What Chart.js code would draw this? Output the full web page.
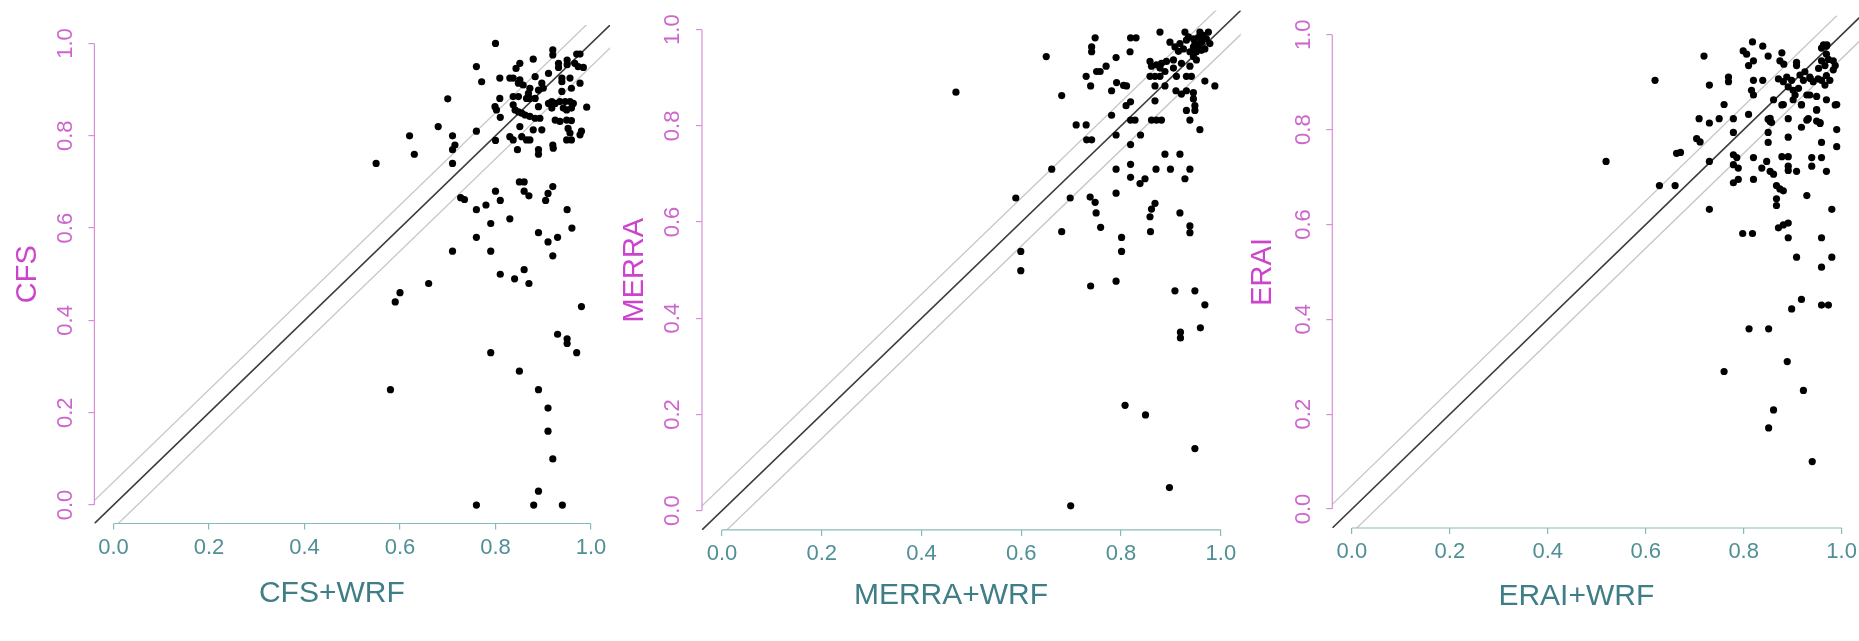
<!DOCTYPE html>
<html><head><meta charset="utf-8">
<script src="https://cdn.jsdelivr.net/npm/chart.js@4.4.1/dist/chart.umd.min.js"></script>
<style>
html,body{margin:0;padding:0;background:#fff;width:1859px;height:641px;overflow:hidden;position:relative}
canvas{position:absolute;top:0}
</style></head><body>
<canvas id="c1"></canvas><canvas id="c2"></canvas><canvas id="c3"></canvas>
<script>
// ---------- data ----------
const xTitles = ['CFS+WRF', 'MERRA+WRF', 'ERAI+WRF'];
const yTitles = ['CFS', 'MERRA', 'ERAI'];
const tickValues = [0.0, 0.2, 0.4, 0.6, 0.8, 1.0];
const axisRange = [-0.04, 1.04];
const refOffsets = [0, 0.05, -0.05];

const cfsPoints = [
[0.80,1.00],[0.92,0.986],[0.92,0.975],[0.879,0.966],[0.97,0.977],[0.977,0.977],[0.966,0.957],[0.973,0.95],[0.984,0.948],[0.95,0.964],[0.95,0.954],[0.932,0.957],[0.932,0.948],[0.851,0.957],[0.843,0.946],[0.911,0.935],[0.809,0.925],[0.83,0.925],[0.837,0.925],[0.851,0.921],[0.858,0.91],[0.848,0.914],[0.771,0.917],[0.883,0.928],[0.897,0.914],[0.89,0.899],[0.90,0.903],[0.939,0.925],[0.939,0.917],[0.956,0.925],[0.977,0.914],[0.872,0.903],[0.869,0.892],[0.809,0.881],[0.837,0.885],[0.848,0.885],[0.865,0.881],[0.872,0.881],[0.883,0.881],[0.939,0.896],[0.959,0.903],[0.918,0.874],[0.911,0.87],[0.925,0.87],[0.935,0.874],[0.946,0.874],[0.956,0.874],[0.963,0.87],[0.799,0.863],[0.802,0.856],[0.837,0.867],[0.841,0.856],[0.848,0.852],[0.855,0.849],[0.862,0.845],[0.872,0.842],[0.883,0.838],[0.893,0.838],[0.89,0.863],[0.918,0.86],[0.942,0.86],[0.949,0.856],[0.959,0.86],[0.991,0.862],[0.925,0.834],[0.935,0.831],[0.949,0.834],[0.959,0.833],[0.851,0.82],[0.879,0.813],[0.897,0.813],[0.952,0.816],[0.956,0.806],[0.977,0.802],[0.83,0.798],[0.837,0.791],[0.855,0.798],[0.865,0.791],[0.872,0.791],[0.949,0.791],[0.959,0.791],[0.921,0.773],[0.81,0.84],
[0.76,0.95],[0.70,0.88],[0.68,0.82],[0.62,0.80],[0.63,0.76],[0.55,0.74],[0.71,0.80],[0.715,0.78],[0.71,0.77],[0.71,0.74],[0.76,0.81],[0.80,0.79],[0.846,0.77],[0.89,0.77],[0.89,0.76],[0.92,0.78],[0.98,0.81],
[0.727,0.666],[0.735,0.662],[0.76,0.64],[0.78,0.65],[0.80,0.68],[0.81,0.66],[0.85,0.70],[0.86,0.70],[0.86,0.68],[0.87,0.67],[0.92,0.69],[0.91,0.675],[0.905,0.66],[0.95,0.64],[0.96,0.60],[0.83,0.62],[0.79,0.61],[0.76,0.58],[0.89,0.59],[0.91,0.57],[0.93,0.58],[0.92,0.54],[0.71,0.55],[0.79,0.55],[0.81,0.50],[0.84,0.49],[0.86,0.51],[0.87,0.48],[0.66,0.48],[0.60,0.46],[0.59,0.44],[0.98,0.43],[0.93,0.37],[0.95,0.36],[0.95,0.35],[0.97,0.33],[0.79,0.33],[0.85,0.29],[0.58,0.25],[0.89,0.25],[0.91,0.21],[0.91,0.16],[0.92,0.10],[0.89,0.03],[0.76,0.00],[0.88,0.00],[0.94,0.00]
];

const merraPoints = [
[0.748,0.983],[0.819,0.983],[0.830,0.983],[0.878,0.995],[0.928,0.995],[0.958,0.995],[0.975,0.995],[0.741,0.964],[0.741,0.954],[0.818,0.954],[0.650,0.944],[0.790,0.942],[0.898,0.974],[0.908,0.964],[0.918,0.971],[0.931,0.978],[0.945,0.981],[0.955,0.984],[0.965,0.988],[0.971,0.981],[0.978,0.971],[0.958,0.971],[0.945,0.964],[0.938,0.954],[0.951,0.954],[0.961,0.957],[0.945,0.944],[0.951,0.937],[0.938,0.924],[0.858,0.934],[0.861,0.924],[0.871,0.927],[0.881,0.930],[0.891,0.934],[0.905,0.937],[0.858,0.903],[0.868,0.903],[0.878,0.903],[0.888,0.913],[0.878,0.920],[0.911,0.903],[0.931,0.903],[0.941,0.903],[0.905,0.920],[0.921,0.930],[0.730,0.903],[0.751,0.913],[0.758,0.913],[0.770,0.924],[0.739,0.883],[0.781,0.873],[0.791,0.890],[0.805,0.884],[0.811,0.883],[0.868,0.883],[0.888,0.883],[0.910,0.873],[0.921,0.866],[0.931,0.873],[0.945,0.869],[0.968,0.893],[0.988,0.883],[0.681,0.863],[0.868,0.852],[0.945,0.856],[0.948,0.842],[0.948,0.832],[0.931,0.832],[0.810,0.842],[0.819,0.850],[0.781,0.822],[0.938,0.812],[0.958,0.792],[0.710,0.802],[0.730,0.802],[0.731,0.771],[0.741,0.771],[0.790,0.781],[0.819,0.812],[0.828,0.812],[0.839,0.781],[0.861,0.812],[0.871,0.812],[0.881,0.812],[0.819,0.761],[0.888,0.741],[0.918,0.741],[0.790,0.710],[0.819,0.720],[0.819,0.693],[0.838,0.680],[0.848,0.690],[0.870,0.710],[0.899,0.710],[0.938,0.710],[0.928,0.690],[0.661,0.710],[0.589,0.650],[0.698,0.650],[0.738,0.652],[0.748,0.641],[0.750,0.619],[0.790,0.660],[0.868,0.639],[0.861,0.627],[0.858,0.611],[0.918,0.619],[0.938,0.592],[0.938,0.578],[0.681,0.580],[0.759,0.589],[0.801,0.568],[0.801,0.539],[0.859,0.580],[0.599,0.539],[0.599,0.499],[0.739,0.467],[0.790,0.477],[0.908,0.457],[0.948,0.457],[0.968,0.428],
[0.935,0.985],[0.962,0.975],[0.948,0.972],[0.968,0.960],[0.955,0.962],[0.925,0.960],[0.915,0.955],
[0.469,0.870],[0.959,0.380],[0.919,0.371],[0.919,0.359],[0.808,0.219],[0.849,0.199],[0.948,0.129],[0.897,0.048],[0.699,0.010]
];

const eraiPoints = [
[0.519,0.733],[0.619,0.904],[0.719,0.955],[0.730,0.894],[0.769,0.911],[0.769,0.901],[0.818,0.985],[0.839,0.976],[0.799,0.966],[0.806,0.959],[0.820,0.945],[0.810,0.935],[0.850,0.955],[0.878,0.962],[0.874,0.945],[0.882,0.938],[0.908,0.942],[0.908,0.935],[0.820,0.904],[0.839,0.904],[0.871,0.907],[0.881,0.901],[0.888,0.911],[0.898,0.904],[0.891,0.890],[0.901,0.883],[0.912,0.887],[0.922,0.904],[0.935,0.911],[0.942,0.901],[0.952,0.907],[0.959,0.904],[0.969,0.914],[0.966,0.894],[0.976,0.904],[0.959,0.972],[0.969,0.976],[0.969,0.959],[0.973,0.948],[0.983,0.945],[0.987,0.935],[0.966,0.935],[0.959,0.945],[0.816,0.883],[0.820,0.873],[0.861,0.863],[0.881,0.853],[0.901,0.863],[0.918,0.853],[0.935,0.873],[0.949,0.870],[0.969,0.863],[0.990,0.853],[0.760,0.853],[0.779,0.823],[0.810,0.832],[0.750,0.823],[0.730,0.814],[0.709,0.823],[0.850,0.822],[0.857,0.815],[0.891,0.823],[0.918,0.805],[0.932,0.823],[0.949,0.818],[0.956,0.815],[0.949,0.842],[0.779,0.794],[0.850,0.794],[0.850,0.773],[0.891,0.784],[0.959,0.773],[0.990,0.764],[0.704,0.781],[0.711,0.774],[0.671,0.752],[0.663,0.750],[0.730,0.733],[0.779,0.747],[0.786,0.741],[0.820,0.741],[0.878,0.743],[0.891,0.743],[0.891,0.723],[0.891,0.714],[0.908,0.712],[0.939,0.741],[0.959,0.741],[0.939,0.723],[0.969,0.712],[0.779,0.726],[0.789,0.719],[0.847,0.733],[0.837,0.719],[0.854,0.712],[0.861,0.706],[0.820,0.695],[0.789,0.695],[0.779,0.688],[0.628,0.682],[0.660,0.682],[0.867,0.682],[0.874,0.675],[0.881,0.671],[0.867,0.654],[0.867,0.640],[0.929,0.661],[0.730,0.632],[0.980,0.632],[0.798,0.581],[0.818,0.581],[0.871,0.593],[0.881,0.599],[0.891,0.603],[0.891,0.572],[0.959,0.572],[0.908,0.531],[0.980,0.531],[0.959,0.510],[0.918,0.442],[0.898,0.422],[0.959,0.430],[0.973,0.430],
[0.905,0.873],[0.929,0.873],[0.878,0.852],[0.918,0.852],[0.949,0.841],[0.987,0.852],[0.854,0.824],[0.854,0.817],[0.929,0.820],[0.956,0.813],[0.990,0.800],[0.936,0.908],[0.925,0.922],[0.915,0.915],[0.953,0.929],[0.983,0.926],[0.970,0.979],[0.963,0.979],
[0.760,0.290],[0.811,0.380],[0.851,0.380],[0.851,0.171],[0.861,0.209],[0.889,0.311],[0.922,0.250],[0.940,0.100]
];

// ---------- styling / layout (page pixels) ----------
const H = 641;
const FONT = "'Liberation Sans', Arial, Helvetica, sans-serif";
Chart.defaults.font.family = FONT;
const colors = {
  yTick: '#cc66cc', yTitle: '#cc44cc', yAxis: '#d690d6',
  xTick: '#4f8f95', xTitle: '#3f7d87', xAxis: '#88baba',
  ref: '#c6c6c6', refMain: '#3c3c3c', point: '#000000'
};
const layouts = [
  {id:'c1', ox:0,    W:640, L:94.4,   R:610.1,  T:25.0, B:523.5, xtc:334,    xtY:593.4, ytc:28},
  {id:'c2', ox:620,  W:640, L:702.0,  R:1240.8, T:10.4, B:529.9, xtc:953,    xtY:596.0, ytc:635},
  {id:'c3', ox:1240, W:640, L:1332.3, R:1861.2, T:15.8, B:528.0, xtc:1579.5, xtY:596.5, ytc:1263.4}
];
const pointSets = [cfsPoints, merraPoints, eraiPoints];

const rAxisLines = {
  id: 'rAxisLines',
  afterDraw(chart) {
    const {ctx, chartArea, scales: {x, y}} = chart;
    const v0 = tickValues[0], v1 = tickValues[tickValues.length - 1];
    ctx.save();
    ctx.lineWidth = 1.2;
    ctx.strokeStyle = colors.yAxis;
    ctx.beginPath();
    ctx.moveTo(chartArea.left, y.getPixelForValue(v0));
    ctx.lineTo(chartArea.left, y.getPixelForValue(v1));
    ctx.stroke();
    ctx.strokeStyle = colors.xAxis;
    ctx.beginPath();
    ctx.moveTo(x.getPixelForValue(v0), chartArea.bottom);
    ctx.lineTo(x.getPixelForValue(v1), chartArea.bottom);
    ctx.stroke();
    ctx.restore();
  }
};

function makePanel(i) {
  const lay = layouts[i];
  const cv = document.getElementById(lay.id);
  cv.width = lay.W; cv.height = H;
  cv.style.left = lay.ox + 'px';
  cv.style.width = lay.W + 'px'; cv.style.height = H + 'px';

  const xTitleSize = 30, yTitleSize = 29, tickSize = 22;
  const tickLen = 6, yTickPad = 7.5;
  const xTitleLH = xTitleSize * 1.2, yTitleLH = yTitleSize * 1.2;
  const rightRel = lay.R - lay.ox;
  const leftRel = lay.L - lay.ox;
  // y tick labels are clipped to the y-scale box, so keep its left edge clear of them
  const labelCenter = leftRel - tickLen - yTickPad - 15.3;
  const pl = Math.min(2 * (lay.xtc - lay.ox) - rightRel, labelCenter - 12);
  const pr = lay.W - rightRel;
  const yWidth = leftRel - pl;
  const titlePadBottom = H - xTitleLH / 2 - lay.xtY;
  const titleBoxTop = H - xTitleLH - titlePadBottom;
  const xHeight = titleBoxTop - lay.B;
  const yTitleOffset = (lay.ytc - lay.ox) - pl - yTitleLH / 2;

  const lo = axisRange[0] - 0.1, hi = axisRange[1] + 0.1;
  const datasets = [{
    type: 'scatter',
    data: pointSets[i].map(p => ({x: p[0], y: p[1]})),
    pointRadius: 3.6, pointHoverRadius: 3.6,
    pointBackgroundColor: colors.point, pointBorderWidth: 0,
    order: 0
  }].concat(refOffsets.map((off, k) => ({
    type: 'line',
    data: [{x: lo, y: lo + off}, {x: hi, y: hi + off}],
    borderColor: off === 0 ? colors.refMain : colors.ref,
    borderWidth: off === 0 ? 1.6 : 1.3,
    pointRadius: 0, fill: false, tension: 0,
    order: 1 + k
  })));

  const zeroPad = s => { s.paddingLeft = 0; s.paddingRight = 0; s.paddingTop = 0; s.paddingBottom = 0; };

  return new Chart(cv, {
    type: 'scatter',
    data: {datasets},
    options: {
      responsive: false, animation: false, devicePixelRatio: 1,
      events: [],
      layout: {padding: {left: pl, right: pr, top: lay.T, bottom: 0}},
      plugins: {
        legend: {display: false},
        tooltip: {enabled: false},
        title: {
          display: true, text: xTitles[i], position: 'bottom', align: 'center',
          color: colors.xTitle, font: {size: xTitleSize, weight: 'normal', lineHeight: 1.2},
          padding: {top: 0, bottom: titlePadBottom}
        }
      },
      scales: {
        x: {
          type: 'linear', position: 'bottom',
          min: axisRange[0], max: axisRange[1],
          afterBuildTicks: s => { s.ticks = tickValues.map(v => ({value: v})); },
          afterFit: s => { s.height = xHeight; zeroPad(s); },
          border: {display: false},
          grid: {drawOnChartArea: false, drawTicks: true, tickLength: tickLen, color: colors.xAxis, lineWidth: 1.2},
          ticks: {color: colors.xTick, font: {size: tickSize}, padding: 5, maxRotation: 0, minRotation: 0,
                  autoSkip: false, callback: v => Number(v).toFixed(1)}
        },
        y: {
          type: 'linear', position: 'left',
          min: axisRange[0], max: axisRange[1],
          afterBuildTicks: s => { s.ticks = tickValues.map(v => ({value: v})); },
          afterFit: s => { s.width = yWidth; zeroPad(s); },
          border: {display: false},
          grid: {drawOnChartArea: false, drawTicks: true, tickLength: tickLen, color: colors.yAxis, lineWidth: 1.2},
          ticks: {color: colors.yTick, font: {size: tickSize}, padding: yTickPad, minRotation: 90, maxRotation: 90,
                  crossAlign: 'center', autoSkip: false, callback: v => Number(v).toFixed(1)},
          title: {display: true, text: yTitles[i], color: colors.yTitle,
                  font: {size: yTitleSize, lineHeight: 1.2}, padding: {top: yTitleOffset, bottom: 0}}
        }
      }
    },
    plugins: [rAxisLines]
  });
}
layouts.forEach((_, i) => makePanel(i));
</script>
</body></html>
